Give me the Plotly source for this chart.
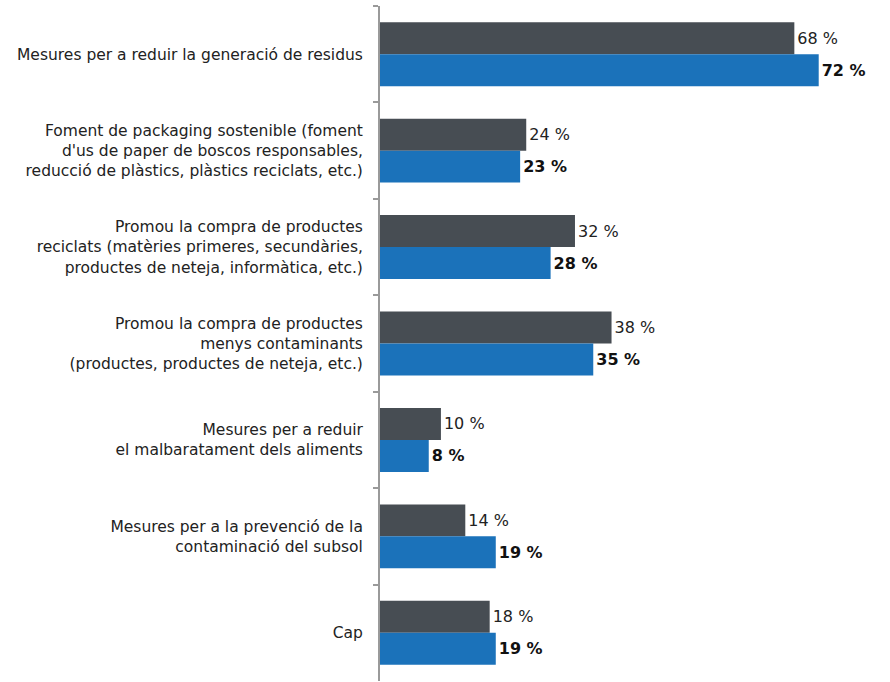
import plotly.graph_objects as go

categories = [
    "Mesures per a reduir la generació de residus",
    "Foment de packaging sostenible (foment<br>d'us de paper de boscos responsables,<br>reducció de plàstics, plàstics reciclats, etc.)",
    "Promou la compra de productes<br>reciclats (matèries primeres, secundàries,<br>productes de neteja, informàtica, etc.)",
    "Promou la compra de productes<br>menys contaminants<br>(productes, productes de neteja, etc.)",
    "Mesures per a reduir<br>el malbaratament dels aliments",
    "Mesures per a la prevenció de la<br>contaminació del subsol",
    "Cap",
]
series_a = [68, 24, 32, 38, 10, 14, 18]
series_b = [72, 23, 28, 35, 8, 19, 19]

gray = "#474d53"
blue = "#1b72ba"
font_family = "DejaVu Sans, sans-serif"

fig = go.Figure()
fig.add_trace(go.Bar(
    y=categories, x=series_a, orientation="h", name="A",
    marker=dict(color=gray, line=dict(width=0)),
    text=[f"{v} %" for v in series_a], textposition="outside",
    textfont=dict(family=font_family, size=16, color="#222222"),
    cliponaxis=False,
))
fig.add_trace(go.Bar(
    y=categories, x=series_b, orientation="h", name="B",
    marker=dict(color=blue, line=dict(width=0)),
    text=[f"<b>{v} %</b>" for v in series_b], textposition="outside",
    textfont=dict(family=font_family, size=16, color="#111111"),
    cliponaxis=False,
))

fig.update_layout(
    width=890, height=682,
    margin=dict(l=380, r=0, t=6, b=1),
    barmode="group", bargap=0.337, bargroupgap=0,
    showlegend=False,
    plot_bgcolor="white", paper_bgcolor="white",
    font=dict(family=font_family, size=15, color="#222222"),
)
fig.update_xaxes(range=[0, 83.7], visible=False, showgrid=False, zeroline=False)
fig.update_yaxes(
    autorange="reversed", type="category",
    showline=True, linecolor="#9a9a9a", linewidth=2,
    ticks="outside", tickson="boundaries", ticklen=5, tickcolor="#9a9a9a", tickwidth=2,
    showgrid=False, ticklabelstandoff=12,
    tickfont=dict(family=font_family, size=15.5, color="#222222"),
)

fig.write_html(
    "out.html",
    config={"displayModeBar": False},
    post_script="document.body.style.margin='0';",
)
